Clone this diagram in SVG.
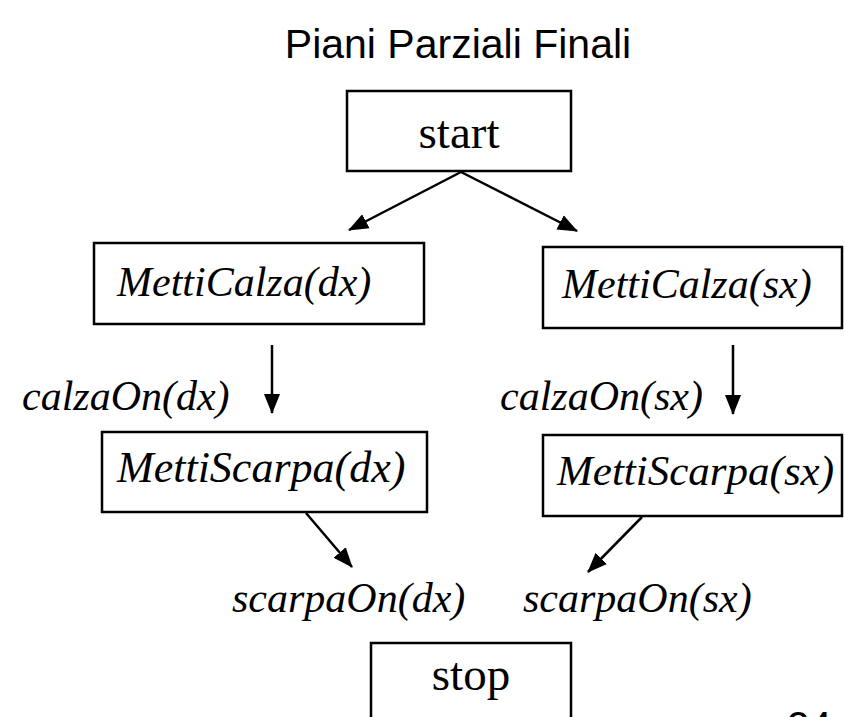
<svg xmlns="http://www.w3.org/2000/svg" width="845" height="717" viewBox="0 0 845 717">
<style>
.box{fill:#fff;stroke:#000;stroke-width:2.5}
.t{font-family:"Liberation Serif","Times New Roman",serif;fill:#000}
.i{font-family:"Liberation Serif","Times New Roman",serif;font-style:italic;fill:#000}
.s{font-family:"Liberation Sans",Arial,sans-serif;fill:#000}
.c{stroke:#000;stroke-width:2.5;fill:none;marker-end:url(#ah)}
</style>
<defs>
<marker id="ah" markerUnits="userSpaceOnUse" markerWidth="22" markerHeight="22" viewBox="0 0 22 22" refX="19" refY="11" orient="auto">
<path d="M0,3 L20,11 L0,19 Z" fill="#000"/>
</marker>
</defs>
<rect width="845" height="717" fill="#fff"/>
<text class="s" x="458" y="58" font-size="41" text-anchor="middle">Piani Parziali Finali</text>
<g id="connectors">
<line class="c" x1="461" y1="172" x2="349" y2="230"/>
<line class="c" x1="461" y1="172" x2="577" y2="231"/>
<line class="c" x1="272" y1="345" x2="272" y2="413"/>
<line class="c" x1="733" y1="345" x2="733" y2="414"/>
<line class="c" x1="306" y1="513" x2="352" y2="567"/>
<line class="c" x1="642" y1="517" x2="588" y2="572"/>
</g>
<g id="start">
<rect class="box" x="347" y="91" width="224" height="80"/>
<text class="t" x="459" y="148" font-size="47" text-anchor="middle">start</text>
</g>
<g id="metticalza-dx">
<rect class="box" x="94" y="243" width="330" height="81"/>
<text class="i" x="117" y="296" font-size="42">MettiCalza(dx)</text>
</g>
<g id="metticalza-sx">
<rect class="box" x="543" y="247" width="299" height="81"/>
<text class="i" x="562" y="298" font-size="42">MettiCalza(sx)</text>
</g>
<g id="calzaon-dx">
<text class="i" x="22" y="410" font-size="42">calzaOn(dx)</text>
</g>
<g id="calzaon-sx">
<text class="i" x="500" y="410" font-size="42">calzaOn(sx)</text>
</g>
<g id="mettiscarpa-dx">
<rect class="box" x="102" y="432" width="325" height="80"/>
<text class="i" x="117" y="482" font-size="44">MettiScarpa(dx)</text>
</g>
<g id="mettiscarpa-sx">
<rect class="box" x="543" y="435" width="299" height="81"/>
<text class="i" x="557" y="485" font-size="43">MettiScarpa(sx)</text>
</g>
<g id="scarpaon-dx">
<text class="i" x="232" y="612" font-size="42">scarpaOn(dx)</text>
</g>
<g id="scarpaon-sx">
<text class="i" x="523" y="612" font-size="42">scarpaOn(sx)</text>
</g>
<g id="stop">
<rect class="box" x="371" y="643" width="200" height="90"/>
<text class="t" x="471" y="690" font-size="47" text-anchor="middle">stop</text>
</g>
<text class="s" x="787" y="740" font-size="40">24</text>
</svg>
